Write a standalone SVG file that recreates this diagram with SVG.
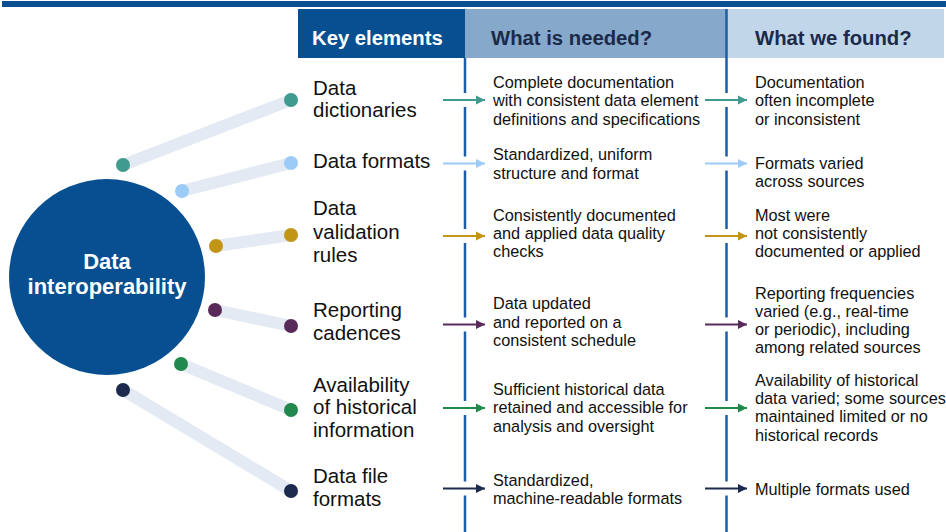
<svg xmlns="http://www.w3.org/2000/svg" width="946" height="532" viewBox="0 0 946 532">
<style>
text{font-family:"Liberation Sans",Arial,sans-serif;}
.key{font-size:20.5px;fill:#111;}
.body{font-size:16.3px;fill:#111;}
.hd{font-size:20.3px;font-weight:bold;}
.spoke{stroke:#e3eaf3;stroke-width:12;stroke-linecap:round;fill:none;}
.vline{stroke:#1d5ea6;stroke-width:2.5;fill:none;}
.arr{stroke-width:2;fill:none;}
</style>
<defs>
<marker id="mT" markerUnits="userSpaceOnUse" markerWidth="10" markerHeight="10" refX="9" refY="5" orient="auto"><path d="M0,0.5 L9,5 L0,9.5 z" fill="#3f9a8f"/></marker>
<marker id="mL" markerUnits="userSpaceOnUse" markerWidth="10" markerHeight="10" refX="9" refY="5" orient="auto"><path d="M0,0.5 L9,5 L0,9.5 z" fill="#9ccbf7"/></marker>
<marker id="mG" markerUnits="userSpaceOnUse" markerWidth="10" markerHeight="10" refX="9" refY="5" orient="auto"><path d="M0,0.5 L9,5 L0,9.5 z" fill="#c39516"/></marker>
<marker id="mP" markerUnits="userSpaceOnUse" markerWidth="10" markerHeight="10" refX="9" refY="5" orient="auto"><path d="M0,0.5 L9,5 L0,9.5 z" fill="#582a5a"/></marker>
<marker id="mN" markerUnits="userSpaceOnUse" markerWidth="10" markerHeight="10" refX="9" refY="5" orient="auto"><path d="M0,0.5 L9,5 L0,9.5 z" fill="#21894c"/></marker>
<marker id="mD" markerUnits="userSpaceOnUse" markerWidth="10" markerHeight="10" refX="9" refY="5" orient="auto"><path d="M0,0.5 L9,5 L0,9.5 z" fill="#1b2a4d"/></marker>
</defs>

<rect x="2" y="1" width="944" height="6" fill="#0a4f91"/>

<g id="header-key">
<rect x="298" y="9" width="167" height="49" fill="#074f90"/>
<text class="hd" x="312" y="44.5" fill="#fff">Key elements</text>
</g>
<g id="header-needed">
<rect x="465" y="9" width="261" height="49" fill="#85a8cb"/>
<text class="hd" x="491" y="44.5" fill="#1c2a4a">What is needed?</text>
</g>
<g id="header-found">
<rect x="727" y="9" width="217" height="49" fill="#c2d6e9"/>
<text class="hd" x="755" y="44.5" fill="#1c2a4a">What we found?</text>
</g>

<g id="connectors">
<line class="spoke" x1="123" y1="165" x2="291" y2="100"/>
<line class="spoke" x1="182" y1="191" x2="291" y2="163"/>
<line class="spoke" x1="216" y1="246" x2="291" y2="235"/>
<line class="spoke" x1="215" y1="310" x2="291" y2="326"/>
<line class="spoke" x1="181" y1="364" x2="291" y2="410"/>
<line class="spoke" x1="123" y1="390" x2="291" y2="491"/>
<path class="vline" d="M465,58 V93 M465,107 V156.5 M465,170.5 V229 M465,243 V317.5 M465,331.5 V401 M465,415 V481.5 M465,495.5 V532"/>
<path class="vline" d="M726.5,9 V93 M726.5,107 V156.5 M726.5,170.5 V229 M726.5,243 V317.5 M726.5,331.5 V401 M726.5,415 V481.5 M726.5,495.5 V532"/>
<line class="arr" stroke="#3f9a8f" x1="443" y1="100" x2="485" y2="100" marker-end="url(#mT)"/>
<line class="arr" stroke="#3f9a8f" x1="705" y1="100" x2="747" y2="100" marker-end="url(#mT)"/>
<line class="arr" stroke="#9ccbf7" x1="443" y1="163.5" x2="485" y2="163.5" marker-end="url(#mL)"/>
<line class="arr" stroke="#9ccbf7" x1="705" y1="163.5" x2="747" y2="163.5" marker-end="url(#mL)"/>
<line class="arr" stroke="#c39516" x1="443" y1="236" x2="485" y2="236" marker-end="url(#mG)"/>
<line class="arr" stroke="#c39516" x1="705" y1="236" x2="747" y2="236" marker-end="url(#mG)"/>
<line class="arr" stroke="#582a5a" x1="443" y1="324.5" x2="485" y2="324.5" marker-end="url(#mP)"/>
<line class="arr" stroke="#582a5a" x1="705" y1="324.5" x2="747" y2="324.5" marker-end="url(#mP)"/>
<line class="arr" stroke="#21894c" x1="443" y1="408" x2="485" y2="408" marker-end="url(#mN)"/>
<line class="arr" stroke="#21894c" x1="705" y1="408" x2="747" y2="408" marker-end="url(#mN)"/>
<line class="arr" stroke="#1b2a4d" x1="443" y1="488.5" x2="485" y2="488.5" marker-end="url(#mD)"/>
<line class="arr" stroke="#1b2a4d" x1="705" y1="488.5" x2="747" y2="488.5" marker-end="url(#mD)"/>
</g>

<g id="hub">
<circle cx="107" cy="277" r="98" fill="#074f90"/>
<text x="107" y="268.5" text-anchor="middle" fill="#fff" font-size="22" font-weight="bold">Data</text>
<text x="107" y="294" text-anchor="middle" fill="#fff" font-size="22" font-weight="bold">interoperability</text>
</g>

<g id="dots">
<circle cx="123" cy="165" r="7" fill="#3f9a8f"/><circle cx="291" cy="100" r="7" fill="#3f9a8f"/>
<circle cx="182" cy="191" r="7" fill="#9ccbf7"/><circle cx="291" cy="163" r="7" fill="#9ccbf7"/>
<circle cx="216" cy="246" r="7" fill="#c39516"/><circle cx="291" cy="235" r="7" fill="#c39516"/>
<circle cx="215" cy="310" r="7" fill="#582a5a"/><circle cx="291" cy="326" r="7" fill="#582a5a"/>
<circle cx="181" cy="364" r="7" fill="#21894c"/><circle cx="291" cy="410" r="7" fill="#21894c"/>
<circle cx="123" cy="390" r="7" fill="#1b2a4d"/><circle cx="291" cy="491" r="7" fill="#1b2a4d"/>
</g>

<g id="key-1"><text class="key" x="313" y="95">Data</text><text class="key" x="313" y="117">dictionaries</text></g>
<g id="key-2"><text class="key" x="313" y="167.5">Data formats</text></g>
<g id="key-3"><text class="key" x="313" y="215">Data</text><text class="key" x="313" y="238.5">validation</text><text class="key" x="313" y="262">rules</text></g>
<g id="key-4"><text class="key" x="313" y="317">Reporting</text><text class="key" x="313" y="340">cadences</text></g>
<g id="key-5"><text class="key" x="313" y="391.5">Availability</text><text class="key" x="313" y="414">of historical</text><text class="key" x="313" y="437">information</text></g>
<g id="key-6"><text class="key" x="313" y="483">Data file</text><text class="key" x="313" y="505.5">formats</text></g>

<g id="need-1"><text class="body" x="493" y="87.5">Complete documentation</text><text class="body" x="493" y="106">with consistent data element</text><text class="body" x="493" y="124.5">definitions and specifications</text></g>
<g id="need-2"><text class="body" x="493" y="160">Standardized, uniform</text><text class="body" x="493" y="178.5">structure and format</text></g>
<g id="need-3"><text class="body" x="493" y="220.7">Consistently documented</text><text class="body" x="493" y="239.2">and applied data quality</text><text class="body" x="493" y="257">checks</text></g>
<g id="need-4"><text class="body" x="493" y="309.3">Data updated</text><text class="body" x="493" y="327.5">and reported on a</text><text class="body" x="493" y="345.5">consistent schedule</text></g>
<g id="need-5"><text class="body" x="493" y="395">Sufficient historical data</text><text class="body" x="493" y="413.3">retained and accessible for</text><text class="body" x="493" y="431.5">analysis and oversight</text></g>
<g id="need-6"><text class="body" x="493" y="486">Standardized,</text><text class="body" x="493" y="503.5">machine-readable formats</text></g>

<g id="found-1"><text class="body" x="755" y="87.5">Documentation</text><text class="body" x="755" y="106">often incomplete</text><text class="body" x="755" y="124.5">or inconsistent</text></g>
<g id="found-2"><text class="body" x="755" y="169.3">Formats varied</text><text class="body" x="755" y="187.3">across sources</text></g>
<g id="found-3"><text class="body" x="755" y="220.7">Most were</text><text class="body" x="755" y="239.2">not consistently</text><text class="body" x="755" y="257">documented or applied</text></g>
<g id="found-4"><text class="body" x="755" y="298.5">Reporting frequencies</text><text class="body" x="755" y="316.8">varied (e.g., real-time</text><text class="body" x="755" y="335">or periodic), including</text><text class="body" x="755" y="353.3">among related sources</text></g>
<g id="found-5"><text class="body" x="755" y="386">Availability of historical</text><text class="body" x="755" y="404.2">data varied; some sources</text><text class="body" x="755" y="422.4">maintained limited or no</text><text class="body" x="755" y="440.6">historical records</text></g>
<g id="found-6"><text class="body" x="755" y="495">Multiple formats used</text></g>
</svg>
